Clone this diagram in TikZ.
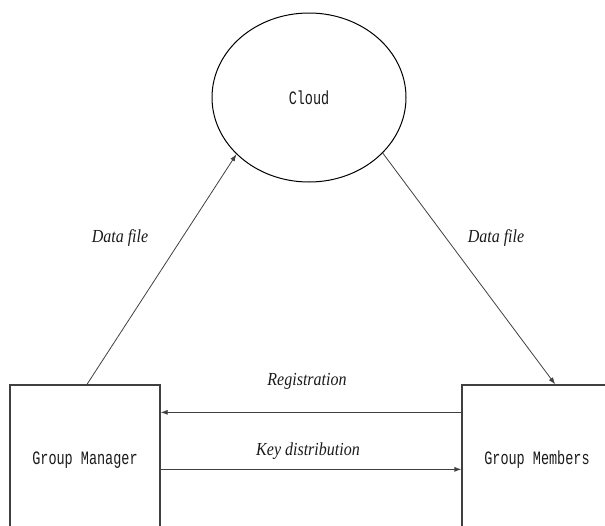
\documentclass[tikz,border=0pt]{standalone}
\usepackage{graphicx}
\usepackage{fontspec}
\setmainfont{Liberation Serif}
\newfontfamily\boxfont{Liberation Mono}
\usetikzlibrary{shapes.geometric,calc,arrows.meta}
\definecolor{linegray}{HTML}{404040}
\definecolor{txt}{HTML}{1A1A1A}
\newcommand{\tallbox}[1]{\scalebox{1}[1.4]{#1}}
\newcommand{\tallital}[1]{\scalebox{1}[1.15]{#1}}
\tikzset{
  entity/.style={draw=linegray, line width=1.3pt, minimum width=150pt, minimum height=150pt, inner sep=0pt, font=\boxfont\fontsize{13.5}{14}\selectfont, text=txt},
  cloudshape/.style={draw=black, ellipse, line width=1pt, minimum width=194pt, minimum height=169pt, inner sep=0pt, font=\boxfont\fontsize{13.5}{14}\selectfont, text=txt},
  flow/.style={draw=linegray, line width=0.8pt, -{Latex[length=7pt,width=5pt]}},
  lbl/.style={font=\itshape\fontsize{16}{18}\selectfont, text=txt}
}
\begin{document}
\begin{tikzpicture}[x=1pt,y=-1pt]
\useasboundingbox (0,0) rectangle (605,525);
\node[cloudshape] (cloud) at (309,97.5) {\tallbox{Cloud}};
\node[entity] (gm) at (85,460) {\tallbox{Group Manager}};
\node[entity] (mem) at (537,460) {\tallbox{Group Members}};
\draw[flow] (gm.north) ++(2,0) -- (cloud.218);
\draw[flow] (cloud.323) -- ($(mem.north west)!0.62!(mem.north east)$);
\draw[flow] ([yshift=-28pt]mem.north west) -- ([yshift=-28pt]gm.north east);
\draw[flow] ([yshift=-85pt]gm.north east) -- ([yshift=-85pt]mem.north west);
\node[lbl] (l1) at (120,238) {\tallital{Data file}};
\node[lbl] (l2) at (496,238) {\tallital{Data file}};
\node[lbl] (l3) at (307,381) {\tallital{Registration}};
\node[lbl] (l4) at (308,451) {\tallital{Key distribution}};
\end{tikzpicture}
\end{document}
